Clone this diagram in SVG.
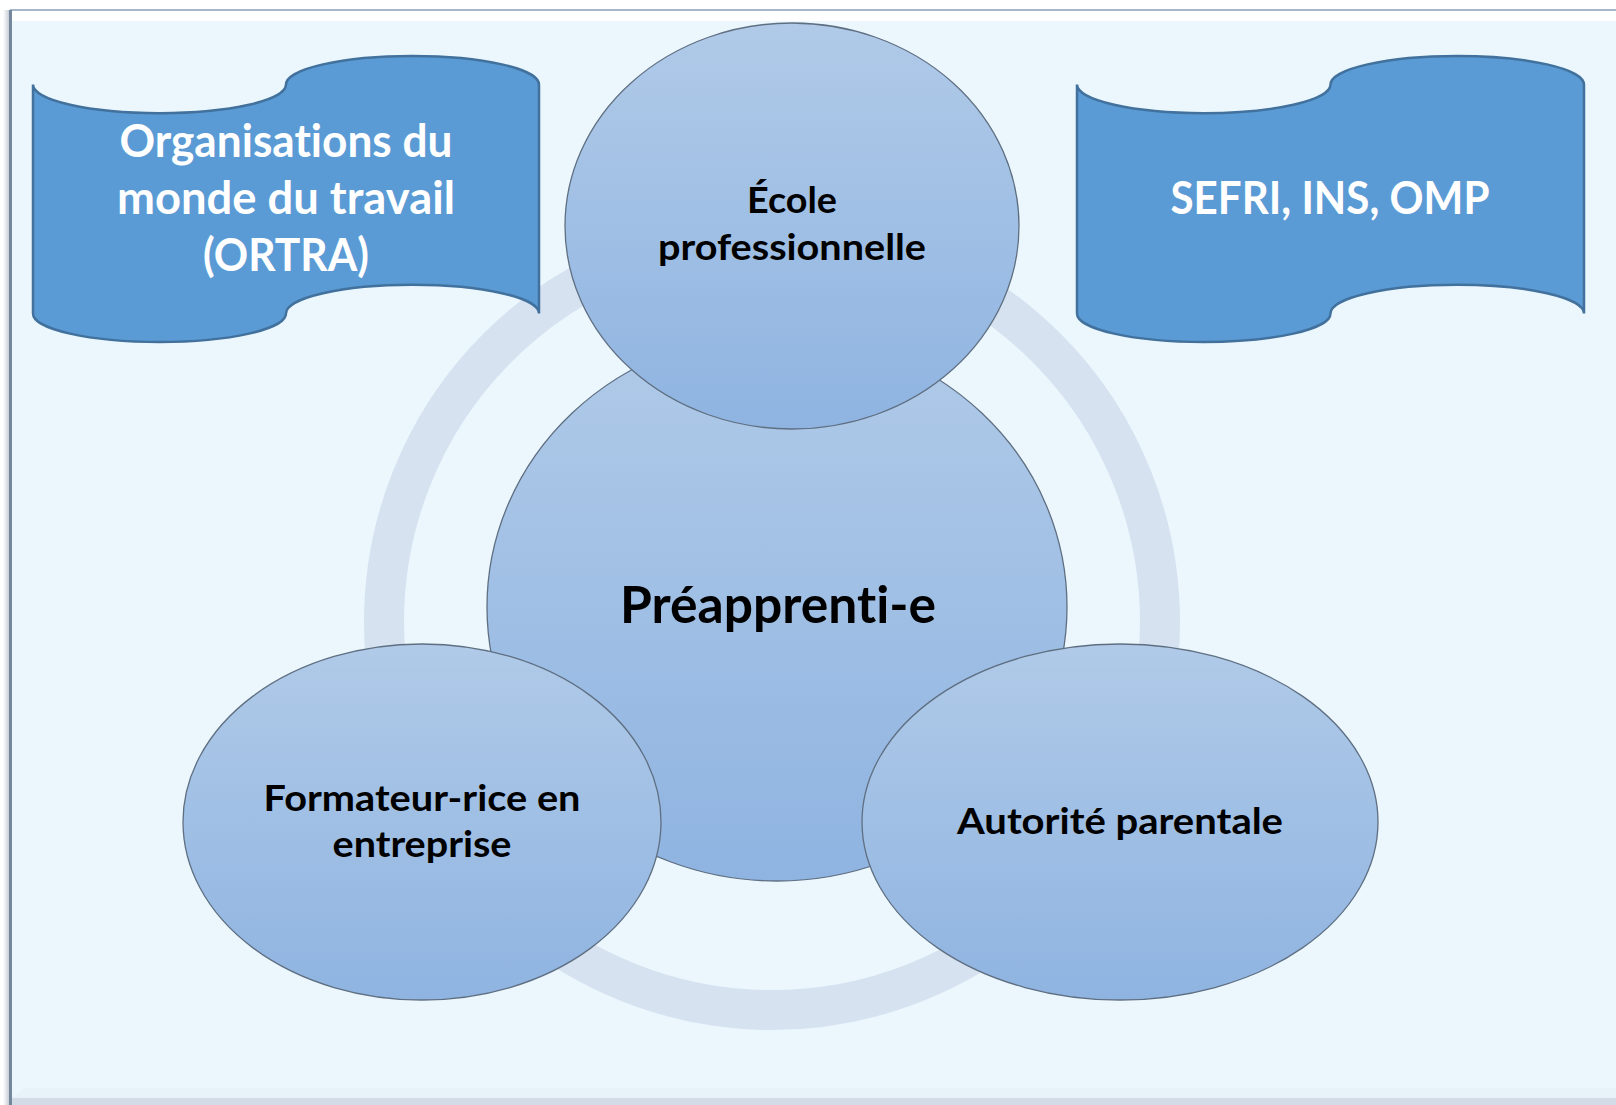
<svg xmlns="http://www.w3.org/2000/svg" width="1616" height="1105" viewBox="0 0 1616 1105">
  <style>
    .ell { stroke: #5f6f82; stroke-width: 1.3; }
    .ban { fill: #5b9bd5; stroke: #41719c; stroke-width: 2.5; }
    text { font-variant-ligatures: none; font-feature-settings: "liga" 0, "clig" 0; }
    .wt { font-family: Lato, "Open Sans", sans-serif; font-weight: bold; fill: #ffffff; text-anchor: middle; font-size: 46px; }
    .bk { font-family: Lato, "Open Sans", sans-serif; font-weight: bold; fill: #000000; text-anchor: middle; font-size: 36px; }
  </style>
  <defs>
    <linearGradient id="eg" x1="0" y1="0" x2="0" y2="1">
      <stop offset="0" stop-color="#b0cae8"/>
      <stop offset="1" stop-color="#8fb4e1"/>
    </linearGradient>
    <linearGradient id="sh" x1="0" y1="0" x2="1" y2="0">
      <stop offset="0" stop-color="#ffffff"/>
      <stop offset="1" stop-color="#c9ced6"/>
    </linearGradient>
  </defs>

  <!-- frame -->
  <g id="frame">
    <rect x="0" y="0" width="1616" height="1105" fill="#ffffff"/>
    <rect x="3" y="10" width="6" height="1095" fill="url(#sh)"/>
    <rect x="11" y="11" width="1605" height="1094" fill="#ffffff"/>
    <rect x="12" y="21" width="1604" height="1077" fill="#ebf7fd"/>
    <polygon points="12,1098 24,1088 1616,1088 1616,1105 12,1105" fill="#e4eef7" opacity="0.6"/>
    <rect x="12" y="1098" width="1604" height="7" fill="#d3dce6"/>
    <line x1="10" y1="10" x2="1616" y2="10" stroke="#a6b7cc" stroke-width="2"/>
    <line x1="10.5" y1="10" x2="10.5" y2="1105" stroke="#74879d" stroke-width="3"/>
  </g>

  <!-- ring -->
  <g id="ring">
    <circle cx="772" cy="622" r="388" fill="none" stroke="#d7e2f1" stroke-width="40"/>
  </g>

  <!-- banners -->
  <g id="ortra">
    <path class="ban" d="M33,84.6 A126.5,28.6 0 0 0 286,84.6 A126.5,28.6 0 0 1 539,84.6 L539,313.4 A126.5,28.6 0 0 0 286,313.4 A126.5,28.6 0 0 1 33,313.4 Z"/>
    <text class="wt" x="286" y="157" textLength="333" lengthAdjust="spacingAndGlyphs">Organisations du</text>
    <text class="wt" x="286" y="214" textLength="338" lengthAdjust="spacingAndGlyphs">monde du travail</text>
    <text class="wt" x="286" y="271" textLength="166" lengthAdjust="spacingAndGlyphs">(ORTRA)</text>
  </g>
  <g id="sefri">
    <path class="ban" d="M1077,84.6 A126.75,28.6 0 0 0 1330.5,84.6 A126.75,28.6 0 0 1 1584,84.6 L1584,313.4 A126.75,28.6 0 0 0 1330.5,313.4 A126.75,28.6 0 0 1 1077,313.4 Z"/>
    <text class="wt" x="1330" y="214" textLength="319" lengthAdjust="spacingAndGlyphs">SEFRI, INS, OMP</text>
  </g>

  <!-- center -->
  <g id="preapprenti">
    <ellipse class="ell" cx="777" cy="607" rx="290" ry="274" fill="url(#eg)"/>
    <text class="bk" x="778" y="623" style="font-size:52px" textLength="316" lengthAdjust="spacingAndGlyphs">Préapprenti-e</text>
  </g>

  <g id="ecole">
    <ellipse class="ell" cx="792" cy="226" rx="227" ry="203" fill="url(#eg)"/>
    <text class="bk" x="792" y="213" textLength="90" lengthAdjust="spacingAndGlyphs">École</text>
    <text class="bk" x="792" y="260" textLength="268" lengthAdjust="spacingAndGlyphs">professionnelle</text>
  </g>

  <g id="formateur">
    <ellipse class="ell" cx="422" cy="822" rx="239" ry="178" fill="url(#eg)"/>
    <text class="bk" x="422" y="811" textLength="317" lengthAdjust="spacingAndGlyphs">Formateur-rice en</text>
    <text class="bk" x="422" y="857" textLength="179" lengthAdjust="spacingAndGlyphs">entreprise</text>
  </g>

  <g id="autorite">
    <ellipse class="ell" cx="1120" cy="822" rx="258" ry="178" fill="url(#eg)"/>
    <text class="bk" x="1120" y="834" textLength="326" lengthAdjust="spacingAndGlyphs">Autorité parentale</text>
  </g>

  <g id="connectors"></g>
</svg>
